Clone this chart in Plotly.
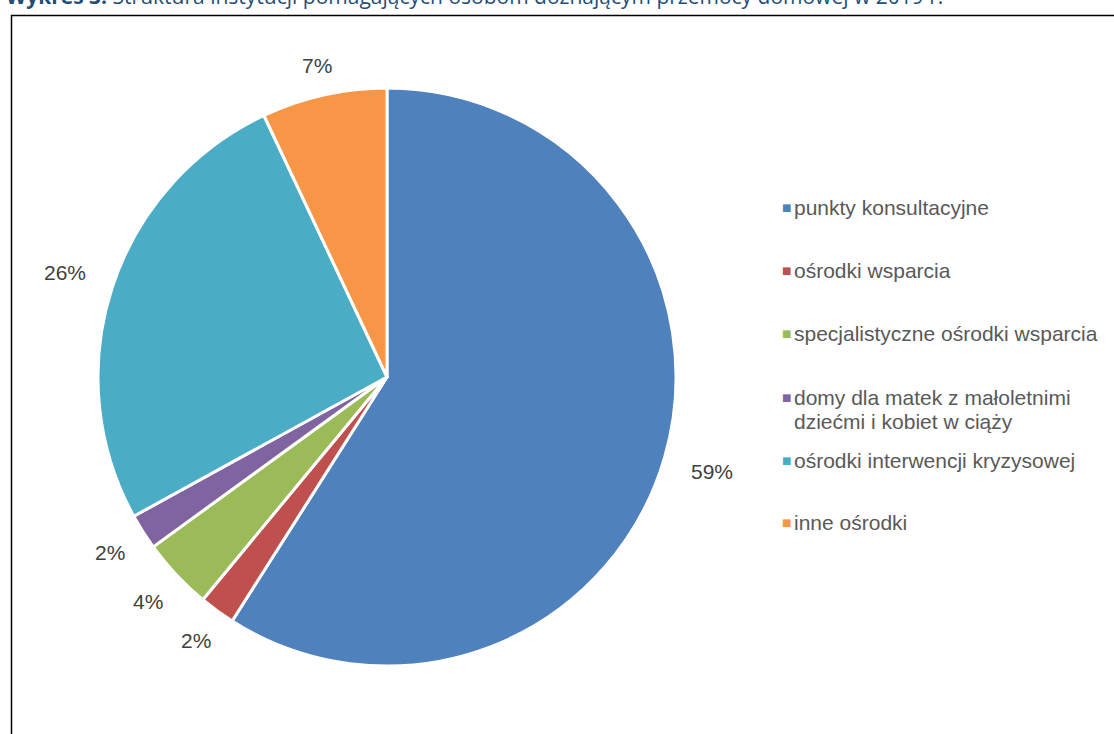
import math
import plotly.graph_objects as go

categories = ["punkty konsultacyjne", "ośrodki wsparcia", "specjalistyczne ośrodki wsparcia",
              "domy dla matek z małoletnimi dziećmi i kobiet w ciąży",
              "ośrodki interwencji kryzysowej", "inne ośrodki"]
legend_labels = ["punkty konsultacyjne", "ośrodki wsparcia", "specjalistyczne ośrodki wsparcia",
                 "domy dla matek z małoletnimi<br>dziećmi i kobiet w ciąży",
                 "ośrodki interwencji kryzysowej", "inne ośrodki"]
values = [59, 2, 4, 2, 26, 7]
colors = ["#4F81BD", "#C0504D", "#9BBB59", "#8064A2", "#4BACC6", "#F79646"]
label_texts = [f"{v}%" for v in values]
title_text = "<b>Wykres 3.</b> Struktura instytucji pomagających osobom doznającym przemocy domowej w 2019 r."

W, H = 1114, 734
cx, cy, R = 387, 377, 289  # pie centre and radius in pixels

fig = go.Figure()
fig.add_trace(go.Pie(
    labels=categories, values=values, sort=False, direction="clockwise", rotation=0,
    marker=dict(colors=colors, line=dict(color="white", width=3)),
    textinfo="none", showlegend=False, hoverinfo="label+percent",
    domain=dict(x=[(cx - R) / W, (cx + R) / W], y=[(H - cy - R) / H, (H - cy + R) / H]),
))

annotations = []
# percentage labels placed at slice mid-angles, outside the rim (box edge kept at a fixed gap)
total = sum(values)
cum = 0
for v, t in zip(values, label_texts):
    mid = (cum + v / 2) / total * 2 * math.pi
    cum += v
    hw = 11 * len(t)
    hh = 12
    r_lab = R + 14 + hw * abs(math.sin(mid)) + hh * abs(math.cos(mid))
    px = cx + r_lab * math.sin(mid)
    py = cy - r_lab * math.cos(mid)
    annotations.append(dict(x=px / W, y=1 - py / H, xref="paper", yref="paper", text=t,
                            showarrow=False, xanchor="center", yanchor="middle",
                            font=dict(family="Liberation Sans, Arial", size=21, color="#404040")))

# legend (markers + text lines, each line left-aligned at the same x)
mark_y = [208, 270, 333, 397, 460, 522]
line_h = 24
for lab, col, my in zip(legend_labels, colors, mark_y):
    annotations.append(dict(x=786 / W, y=1 - my / H, xref="paper", yref="paper", text="■",
                            showarrow=False, xanchor="center", yanchor="middle",
                            font=dict(family="DejaVu Sans", size=10, color=col)))
    for i, line in enumerate(lab.split("<br>")):
        annotations.append(dict(x=792 / W, y=1 - (my + i * line_h) / H, xref="paper", yref="paper",
                                text=line, showarrow=False, xanchor="left", yanchor="middle",
                                font=dict(family="Liberation Sans, Arial", size=21, color="#595959")))

annotations.append(dict(x=4 / W, y=1 - 12 / H, xref="paper", yref="paper", text=title_text,
                        showarrow=False, xanchor="left", yanchor="bottom",
                        font=dict(family="Open Sans, Liberation Sans", size=21, color="#1F4E79")))

fig.update_layout(
    width=W, height=H, margin=dict(l=0, r=0, t=0, b=0),
    paper_bgcolor="white", plot_bgcolor="white",
    annotations=annotations,
    shapes=[dict(type="rect", xref="paper", yref="paper", x0=11.5 / W, x1=1.01, y0=-0.01, y1=1 - 15.5 / H,
                 line=dict(color="black", width=1.5), fillcolor="rgba(0,0,0,0)")],
)
fig.write_html("out.html", config={"displayModeBar": False},
               post_script="document.body.style.margin='0';")
